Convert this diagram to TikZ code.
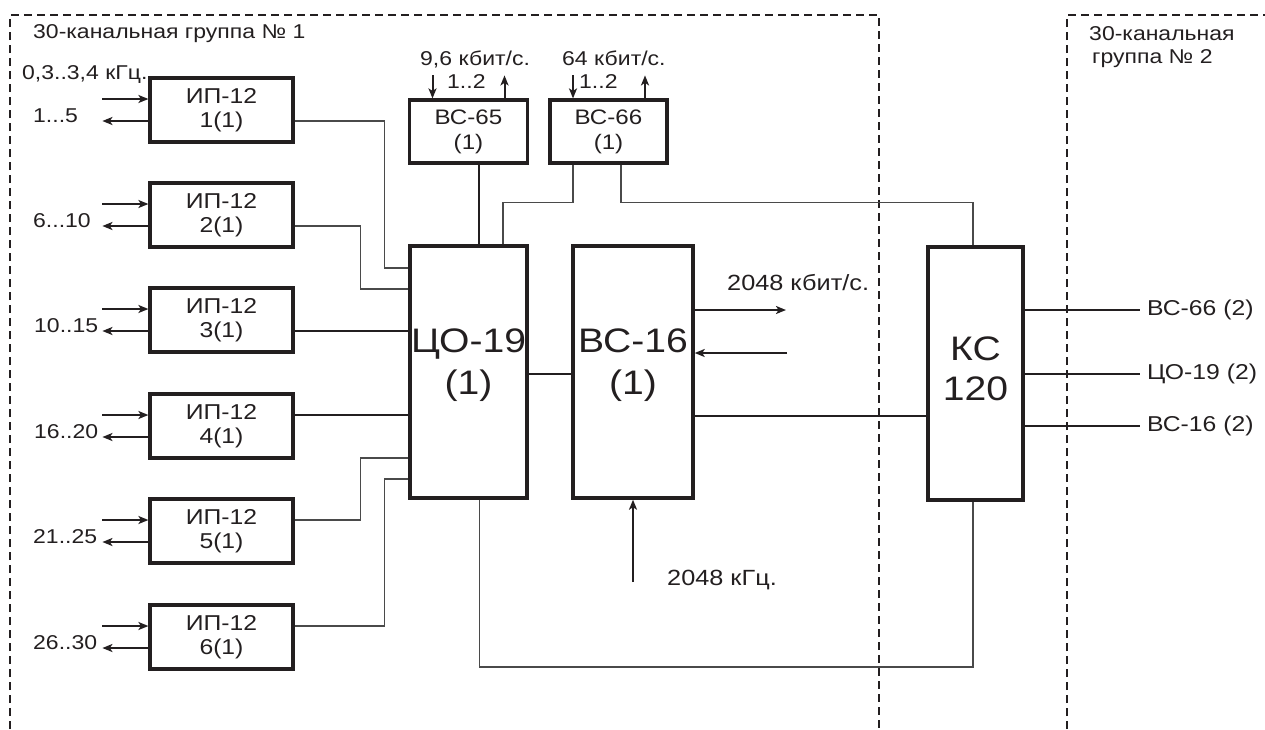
\documentclass[tikz,border=0pt]{standalone}
\usepackage{fontspec}
\setmainfont{Liberation Sans}[FakeStretch=1.15]
\usetikzlibrary{arrows.meta,calc}
\definecolor{ink}{HTML}{231F20}
\definecolor{wirec}{HTML}{4A4A4A}
\begin{document}
\begin{tikzpicture}[x=1pt,y=-1pt,
  every node/.style={text=ink},
  ipbox/.style={draw=ink, line width=3.2pt, minimum width=143pt, minimum height=64pt, inner sep=0pt, align=center, font=\fontsize{21.5}{24}\selectfont},
  vsbox/.style={draw=ink, line width=3.2pt, minimum width=118pt, minimum height=63pt, inner sep=0pt, align=center, font=\fontsize{21}{25}\selectfont},
  bigbox/.style={draw=ink, line width=3.4pt, minimum height=252pt, inner sep=0pt},
  bigtext/.style={align=center, inner sep=0pt, font=\fontsize{34}{42}\selectfont},
  lbl/.style={inner sep=0pt, anchor=base west, font=\fontsize{20}{23}\selectfont},
  lblm/.style={inner sep=0pt, anchor=base west, font=\fontsize{22}{25}\selectfont},
  outlbl/.style={inner ysep=0pt, inner xsep=7pt, anchor=west, font=\fontsize{21.5}{24}\selectfont},
  wire/.style={draw=ink, line width=2pt},
  fine/.style={draw=wirec, line width=1.3pt},
  arr/.style={draw=ink, line width=2pt, -{Stealth[length=10pt,width=8pt,inset=2.5pt]}},
  grp/.style={draw=ink, line width=1.8pt, dash pattern=on 8pt off 5pt}
]
\useasboundingbox (0,0) rectangle (1265,729);

% group frames
\coordinate (g1bl) at (10,729);
\coordinate (g1tl) at (10,15);
\coordinate (g1tr) at (879,15);
\coordinate (g1br) at (879,729);
\draw[grp] (g1bl) -- (g1tl) -- (g1tr) -- (g1br);
\coordinate (g2bl) at (1067,729);
\coordinate (g2tl) at (1067,15);
\coordinate (g2tr) at (1265,15);
\draw[grp] (g2bl) -- (g2tl) -- (g2tr);

\node[lbl] (g1) at (33,38) {30-канальная группа № 1};
\node[lbl] (g2a) at (1089,40) {30-канальная};
\node[lbl] (g2b) at (1092,63) {группа № 2};

% IP-12 boxes
\node[ipbox] (ip1) at (221.5,110) {ИП-12\\1(1)};
\node[ipbox] (ip2) at (221.5,215) {ИП-12\\2(1)};
\node[ipbox] (ip3) at (221.5,320) {ИП-12\\3(1)};
\node[ipbox] (ip4) at (221.5,426) {ИП-12\\4(1)};
\node[ipbox] (ip5) at (221.5,531) {ИП-12\\5(1)};
\node[ipbox] (ip6) at (221.5,637) {ИП-12\\6(1)};

\node[lbl] (f0) at (22,79) {0,3..3,4 кГц.};
\node[lbl] (l1) at (33,122) {1...5};
\node[lbl] (l2) at (33,227) {6...10};
\node[lbl] (l3) at (34,332) {10..15};
\node[lbl] (l4) at (34,438) {16..20};
\node[lbl] (l5) at (33,543) {21..25};
\node[lbl] (l6) at (33,649) {26..30};

\foreach \i in {1,...,6} {
  \draw[arr] ([xshift=-46pt,yshift=11pt]ip\i.west) -- ([yshift=11pt]ip\i.west);
  \draw[arr] ([yshift=-11pt]ip\i.west) -- ([xshift=-46pt,yshift=-11pt]ip\i.west);
}

% big boxes
\node[bigbox, minimum width=117pt] (co) at (468.5,372) {};
\node[bigtext] (cot) at (468.5,365) {ЦО-19\\(1)};
\node[bigbox, minimum width=120pt] (vs) at (633,372) {};
\node[bigtext] (vst) at (633,365) {ВС-16\\(1)};
\node[bigbox, minimum width=95pt, minimum height=253pt] (ks) at (975.5,373.5) {};
\node[bigtext, font=\fontsize{34}{40}\selectfont] (kst) at (975.5,369) {КС\\120};

% VS-65 / VS-66
\node[vsbox] (bc65) at (468.5,131.5) {ВС-65\\(1)};
\node[vsbox, minimum width=117pt] (bc66) at (608.5,131.5) {ВС-66\\(1)};
\draw[arr] ([xshift=-36pt,yshift=23pt]bc65.north) -- ([xshift=-36pt]bc65.north);
\draw[arr] ([xshift=36pt]bc65.north) -- ([xshift=36pt,yshift=23pt]bc65.north);
\draw[arr] ([xshift=-35.5pt,yshift=23pt]bc66.north) -- ([xshift=-35.5pt]bc66.north);
\draw[arr] ([xshift=36.5pt]bc66.north) -- ([xshift=36.5pt,yshift=23pt]bc66.north);
\node[lbl] (r65) at (420,65) {9,6 кбит/с.};
\node[lbl] (n65) at (447,88) {1..2};
\node[lbl] (r66) at (562,65) {64 кбит/с.};
\node[lbl] (n66) at (579,88) {1..2};

% IP -> CO wires
\draw[fine] ([yshift=-11pt]ip1.east) -| ([xshift=-24pt,yshift=104pt]co.west) -- ([yshift=104pt]co.west);
\draw[fine] ([yshift=-11pt]ip2.east) -| ([xshift=-48pt,yshift=83pt]co.west) -- ([yshift=83pt]co.west);
\path ([yshift=-11pt]ip3.east) coordinate (p3);
\draw[wire] (p3) -- (p3 -| co.west);
\path ([yshift=11pt]ip4.east) coordinate (p4);
\draw[wire] (p4) -- (p4 -| co.west);
\draw[fine] ([yshift=11pt]ip5.east) -| ([xshift=-48pt,yshift=-86pt]co.west) -- ([yshift=-86pt]co.west);
\draw[fine] ([yshift=11pt]ip6.east) -| ([xshift=-24pt,yshift=-107pt]co.west) -- ([yshift=-107pt]co.west);

% VS-65/66 wires
\draw[wire] ([xshift=10.5pt]bc65.south) -- ([xshift=10.5pt]co.north);
\draw[fine] ([xshift=-35.5pt]bc66.south) |- ([xshift=34.5pt,yshift=42pt]co.north) -- ([xshift=34.5pt]co.north);
\draw[fine] ([xshift=12.5pt]bc66.south) |- ([xshift=-2.5pt,yshift=43pt]ks.north) -- ([xshift=-2.5pt]ks.north);

% CO -> VS
\path ([yshift=-2pt]co.east) coordinate (pc);
\draw[wire] (pc) -- (pc -| vs.west);

% VS-16 ports
\path ([yshift=62pt]vs.east) coordinate (vo);
\coordinate (voe) at (786,310);
\draw[arr] (vo) -- (voe);
\coordinate (vie) at (787,353);
\draw[arr] (vie) -- (vie -| vs.east);
\node[lblm] (r2048) at (727,290) {2048 кбит/с.};
\path ([yshift=-44pt]vs.east) coordinate (pk);
\draw[wire] (pk) -- (pk -| ks.west);
\coordinate (clk) at (633,582);
\draw[arr] (clk) -- (vs.south);
\node[lblm] (f2048) at (667,585) {2048 кГц.};

% bottom loop CO -> KS
\coordinate (bl) at (973,667);
\draw[fine] ([xshift=11pt]co.south) |- (bl) -- (bl |- ks.south);

% KS outputs
\node[outlbl] (k1) at (1140,310) {ВС-66 (2)};
\node[outlbl] (k2) at (1140,374) {ЦО-19 (2)};
\node[outlbl] (k3) at (1140,426) {ВС-16 (2)};
\draw[wire] (k1.west -| ks.east) -- (k1.west);
\draw[wire] (k2.west -| ks.east) -- (k2.west);
\draw[wire] (k3.west -| ks.east) -- (k3.west);
\end{tikzpicture}
\end{document}
